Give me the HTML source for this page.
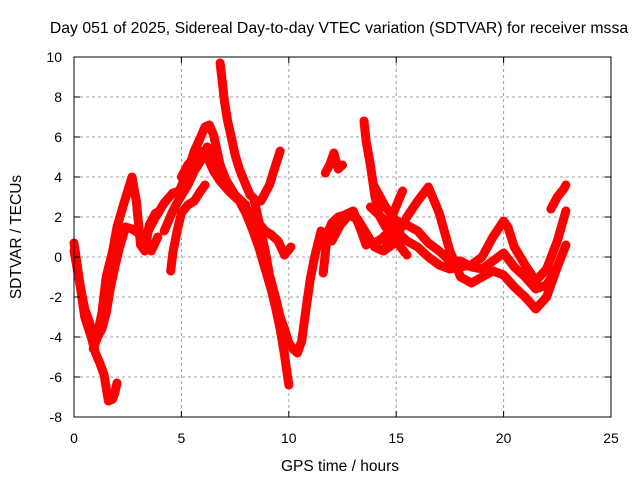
<!DOCTYPE html>
<html><head><meta charset="utf-8"><style>
html,body{margin:0;padding:0;background:#fff}
svg text{font-family:"Liberation Sans",sans-serif;font-size:14px;fill:#000}
</style></head><body>
<svg id="chart" width="640" height="480" xmlns="http://www.w3.org/2000/svg">
<text x="339" y="33" text-anchor="middle" style="font-size:15.8px">Day 051 of 2025, Sidereal Day-to-day VTEC variation (SDTVAR) for receiver mssa</text>
<text transform="translate(21,237) rotate(-90)" text-anchor="middle" style="font-size:15.5px">SDTVAR / TECUs</text>
<text x="340" y="471" text-anchor="middle" style="font-size:15.5px">GPS time / hours</text>
<g id="grid"></g>
<g id="series"></g>
<g id="axes"></g>
</svg>
<script>
const xTicks=[0,5,10,15,20,25];
const yTicks=[-8,-6,-4,-2,0,2,4,6,8,10];
const trackA_t=[0,0.3,0.5,0.8,1.0,1.2,1.4,1.6,1.8,1.9,2.0];
const trackA_v=[0.7,-1.5,-3.0,-4.0,-4.8,-5.3,-5.9,-7.2,-7.1,-6.8,-6.3];
const trackB_t=[0,0.3,0.5,0.7,0.9,1.1,1.3,1.5,1.8,2.0,2.3,2.5,2.7,2.9,3.1,3.3,3.5,3.8];
const trackB_v=[0.3,-1.5,-2.6,-3.2,-3.9,-3.8,-2.8,-1.0,0.3,1.5,2.6,3.3,4.0,2.8,0.6,0.3,1.6,2.2];
const trackC_t=[0.9,1.1,1.3,1.5,1.7,1.9,2.1,2.4,2.7,3.0,3.3,3.6,3.9];
const trackC_v=[-4.6,-4.0,-3.6,-2.8,-1.5,-0.5,0.4,1.5,1.4,1.2,0.6,0.3,1.0];
const trackD_t=[3.4,3.8,4.2,4.6,4.9,5.3,5.6,5.9,6.1,6.3,6.5,6.8,7.1,7.5,7.9,8.2,8.6,8.9,9.2,9.5,9.8,10.1];
const trackD_v=[1.2,2.0,2.7,3.2,3.3,4.3,5.3,6.0,6.5,6.6,6.1,4.6,3.8,3.1,2.7,2.1,1.7,1.3,1.1,0.8,0.1,0.5];
const trackE_t=[4.2,4.6,4.9,5.3,5.6,5.9,6.2,6.6,7.0,7.4,7.7,8.0,8.3,8.6,8.9,9.2,9.4,9.6,9.8,10.0];
const trackE_v=[1.3,2.3,2.9,3.6,4.3,4.8,5.5,4.8,3.8,3.2,2.8,2.2,1.4,0.5,-0.6,-1.7,-2.6,-3.6,-4.9,-6.4];
const trackF_t=[6.8,6.9,7.0,7.15,7.3,7.5,7.7,8.0,8.2,8.5,8.7,8.9,9.1,9.3,9.6];
const trackF_v=[9.7,8.8,7.8,6.8,6.1,5.1,4.4,3.6,3.1,2.8,2.8,3.2,3.6,4.3,5.3];
const trackG_t=[8.4,8.7,8.9,9.1,9.4,9.6,9.8,10.0,10.2,10.4,10.6,10.8,11.0,11.2,11.5];
const trackG_v=[2.8,1.3,0.3,-0.9,-2.1,-3.0,-3.6,-4.3,-4.6,-4.8,-4.2,-2.6,-1.1,0.0,1.3];
const trackH_t=[4.5,4.6,4.8,5.0,5.3,5.6,5.9,6.1];
const trackH_v=[-0.7,0.2,1.3,2.2,2.6,2.8,3.3,3.6];
const trackI_t=[11.7,11.9,12.1,12.3,12.5];
const trackI_v=[4.2,4.6,5.2,4.4,4.6];
const trackJ_t=[11.6,11.8,12.0,12.3,12.6,13.0,13.3,13.6,13.8,14.0,14.3,14.7,15.2,15.5];
const trackJ_v=[-0.8,1.2,1.7,2.0,2.1,2.3,1.5,0.6,0.8,0.7,0.9,1.3,0.5,0.1];
const trackK_t=[13.5,13.6,13.8,14.0,14.2,14.5,14.8,15.1,15.3];
const trackK_v=[6.8,5.8,4.6,3.1,2.1,1.5,2.0,2.8,3.3];
const trackL_t=[14.5,15.0,15.5,16.0,16.5,17.0,17.5,18.0,18.5,19.0,19.5,20.0,20.5,21.0,21.5,22.0,22.5,22.9];
const trackL_v=[0.5,1.0,2.0,2.8,3.5,2.2,0.3,-1.0,-1.3,-1.0,-0.7,-0.9,-1.5,-2.0,-2.6,-2.0,-0.5,0.6];
const trackM_t=[13.8,14.5,15.0,15.5,16.0,16.5,17.0,17.5,18.0,18.5,19.0,19.5,20.0,20.2,20.5,21.0,21.5,22.0,22.5,22.9];
const trackM_v=[2.5,1.8,1.3,0.8,0.5,0.0,-0.4,-0.6,-0.5,-0.4,0.0,1.0,1.8,1.5,0.5,-0.4,-1.2,-0.6,0.8,2.3];
const trackN_t=[14.0,14.5,15.0,15.5,16.0,16.5,17.0,17.5,18.0,18.5,19.0,19.5,20.0,20.5,21.0,21.5,22.0,22.5];
const trackN_v=[3.5,2.5,1.8,1.6,1.3,0.7,0.3,-0.2,-0.2,-0.5,-0.6,-0.2,0.2,-0.5,-1.0,-1.6,-1.4,-0.5];
const trackO_t=[22.2,22.5,22.8,22.9];
const trackO_v=[2.4,3.0,3.4,3.6];
const trackP_t=[12.0,12.4,12.8,13.2,13.6,14.0,14.4,14.8];
const trackP_v=[0.8,1.6,2.1,1.9,1.2,0.5,0.3,0.6];
const trackQ_t=[5.0,5.3,5.6,5.9,6.2,6.5,6.8,7.2,7.6,8.0];
const trackQ_v=[4.0,4.6,5.0,5.3,5.0,4.3,3.8,3.3,2.9,2.6];
const tracksT=[trackA_t,trackB_t,trackC_t,trackD_t,trackE_t,trackF_t,trackG_t,trackH_t,trackI_t,trackJ_t,trackK_t,trackL_t,trackM_t,trackN_t,trackO_t,trackP_t,trackQ_t];
const tracksV=[trackA_v,trackB_v,trackC_v,trackD_v,trackE_v,trackF_v,trackG_v,trackH_v,trackI_v,trackJ_v,trackK_v,trackL_v,trackM_v,trackN_v,trackO_v,trackP_v,trackQ_v];

const L=74,R=611,T=57,B=417,xmin=0,xmax=25,ymin=-8,ymax=10;
const NS="http://www.w3.org/2000/svg";
function xs(t){return L+(t-xmin)/(xmax-xmin)*(R-L);}
function ys(v){return B-(v-ymin)/(ymax-ymin)*(B-T);}
function mk(tag,attrs,parent){const e=document.createElementNS(NS,tag);for(const k in attrs)e.setAttribute(k,attrs[k]);parent.appendChild(e);return e;}
const grid=document.getElementById('grid'),axes=document.getElementById('axes'),ser=document.getElementById('series');
xTicks.forEach(t=>{
  if(t>xmin&&t<xmax){const g=mk('line',{x1:xs(t),x2:xs(t),y1:T,y2:B,stroke:'#a0a0a0','stroke-dasharray':'3,3'},grid);
  
  }
  const tk=mk('line',{x1:xs(t),x2:xs(t),y1:B,y2:B-6,stroke:'#000'},axes);
  
  
  const tk2=mk('line',{x1:xs(t),x2:xs(t),y1:T,y2:T+6,stroke:'#000'},axes);
  
  
  const lb=mk('text',{x:xs(t),y:B+26,'text-anchor':'middle'},axes);lb.textContent=t;
  
  
});
yTicks.forEach(v=>{
  if(v>ymin&&v<ymax){const g=mk('line',{x1:L,x2:R,y1:ys(v),y2:ys(v),stroke:'#a0a0a0','stroke-dasharray':'3,3'},grid);
  
  }
  const tk=mk('line',{x1:L,x2:L+6,y1:ys(v),y2:ys(v),stroke:'#000'},axes);
  
  
  const tk2=mk('line',{x1:R,x2:R-6,y1:ys(v),y2:ys(v),stroke:'#000'},axes);
  
  
  const lb=mk('text',{x:L-12,y:ys(v)+5,'text-anchor':'end'},axes);lb.textContent=v;
  
  
});
const fr=mk('rect',{x:L,y:T,width:R-L,height:B-T,fill:'none',stroke:'#000'},axes);


tracksT.forEach((ts,i)=>{
  const vs=tracksV[i];
  const pts=ts.map((t,j)=>xs(t).toFixed(1)+','+ys(vs[j]).toFixed(1)).join(' ');
  const p=mk('polyline',{points:pts,fill:'none',stroke:'#ff0000','stroke-width':9,'stroke-linejoin':'round','stroke-linecap':'round'},ser);
  
  
});
</script>
</body></html>
